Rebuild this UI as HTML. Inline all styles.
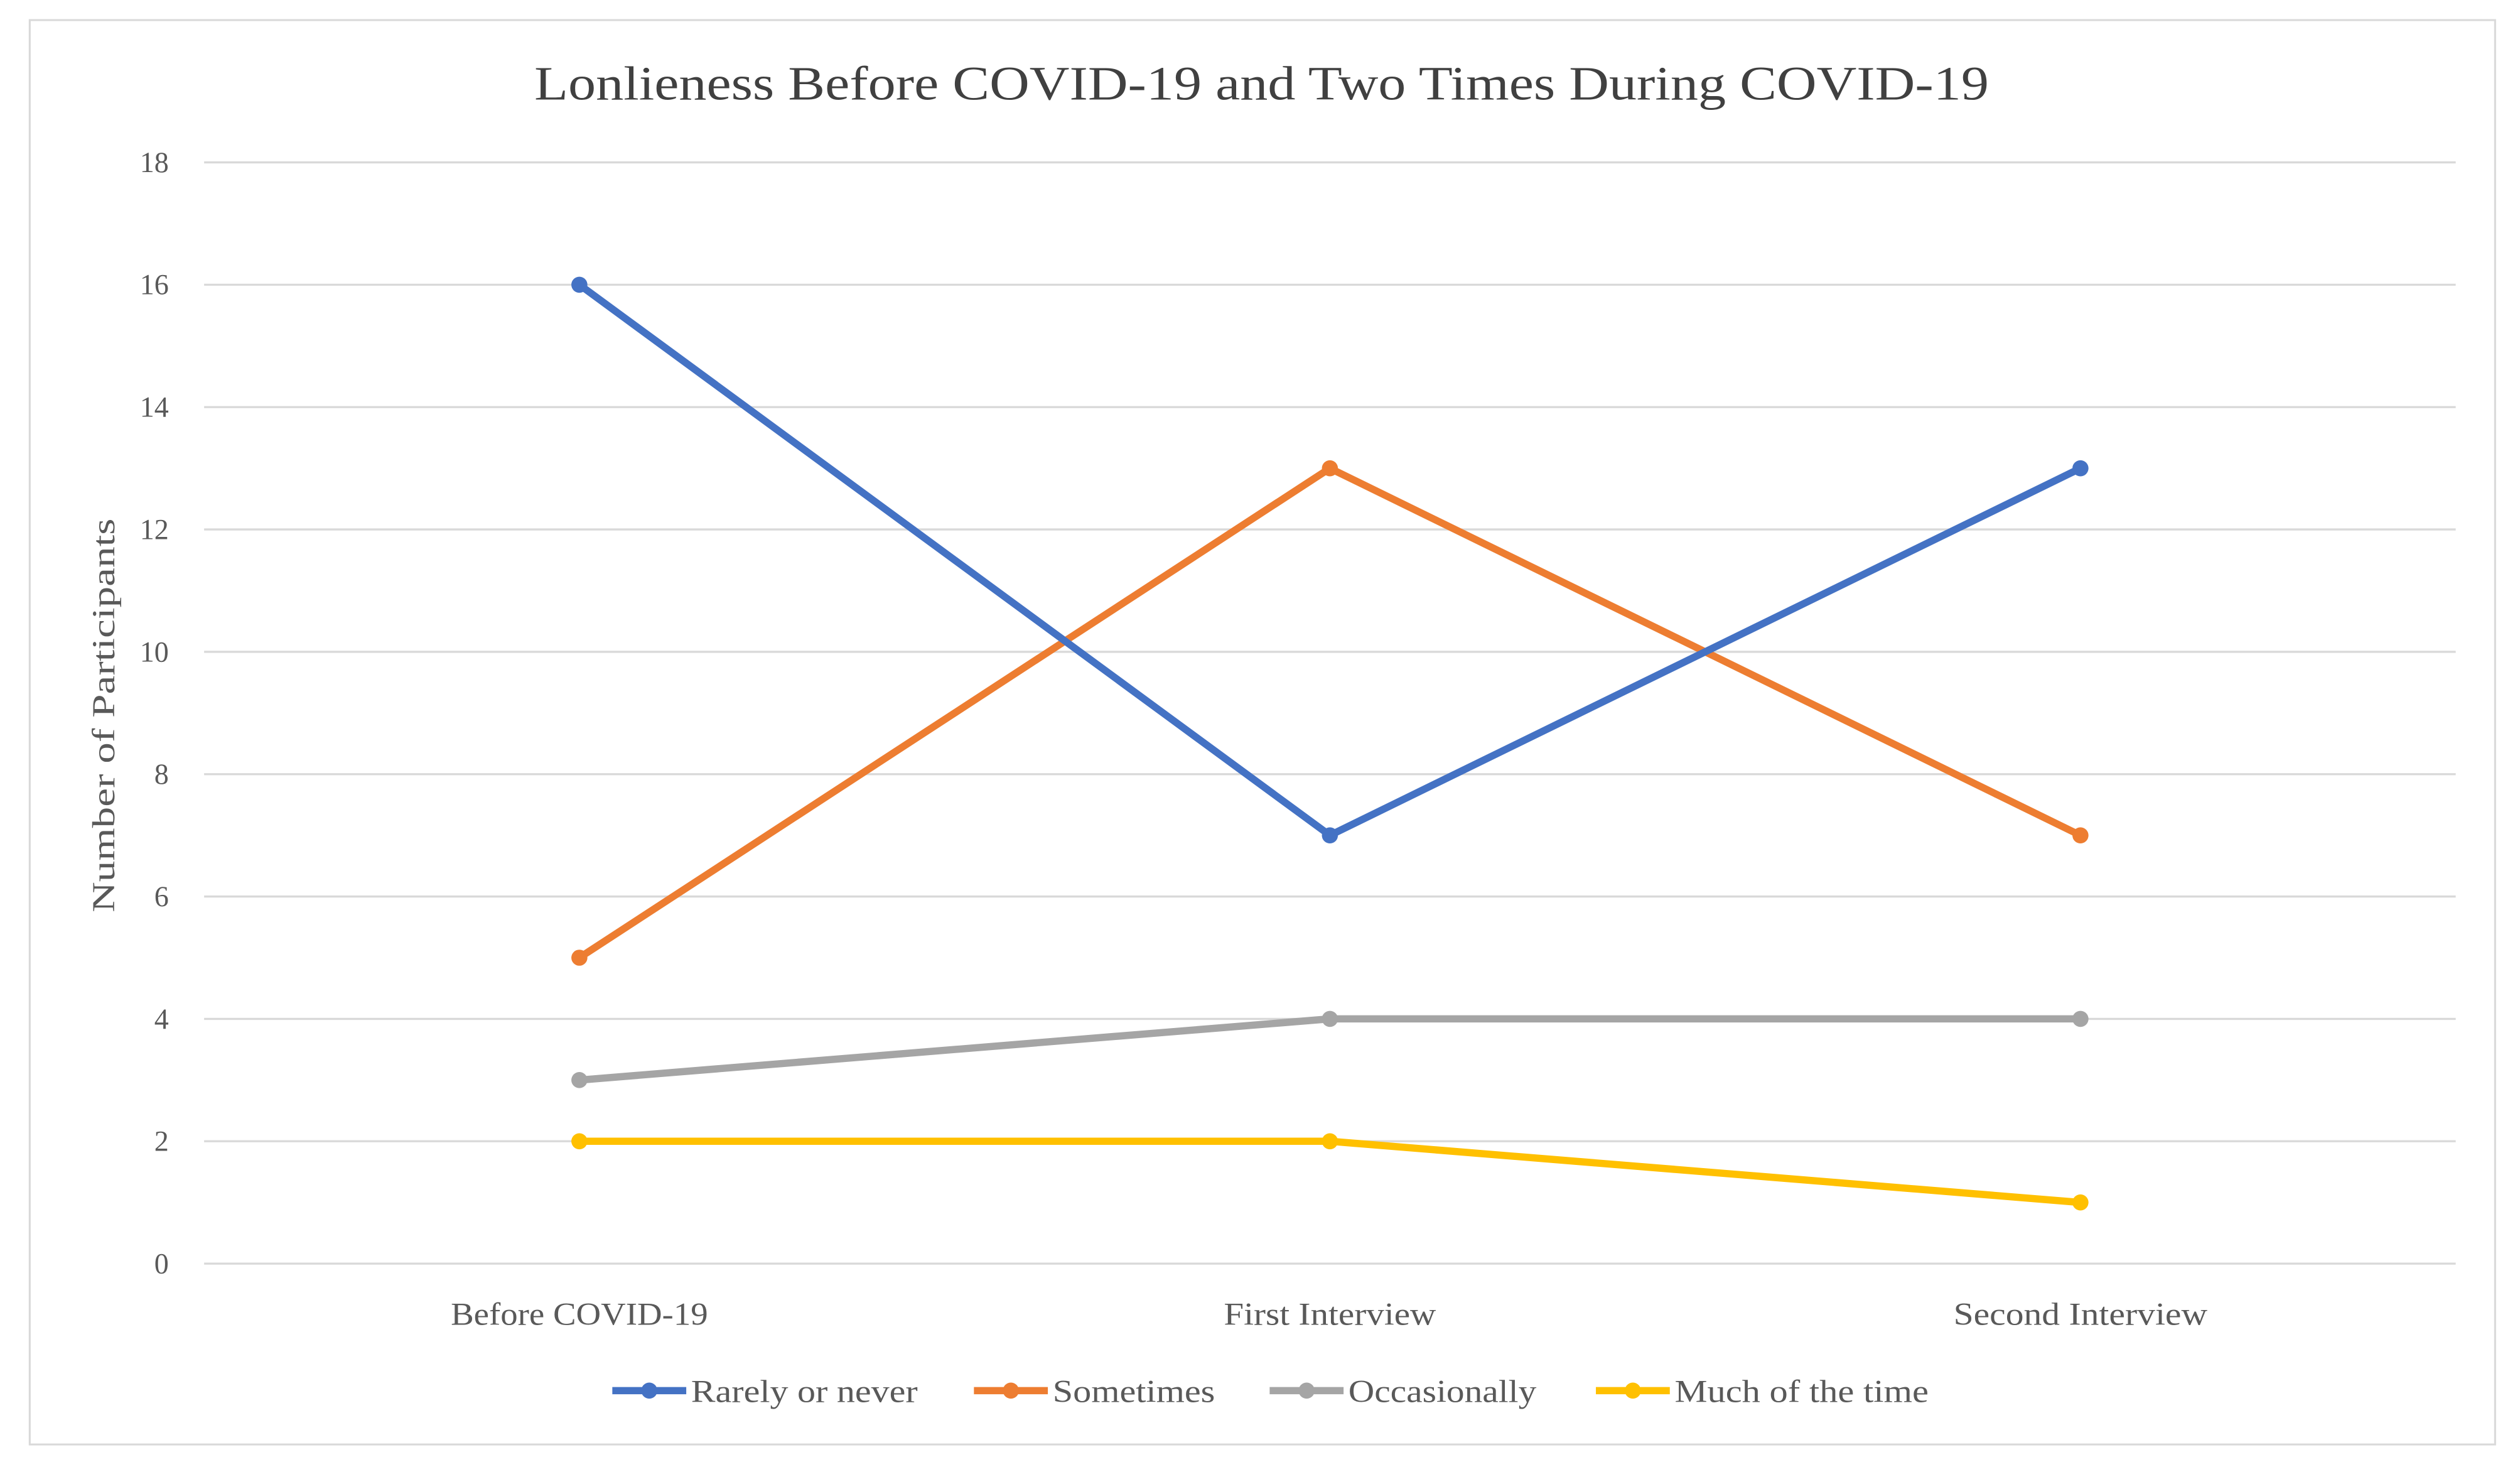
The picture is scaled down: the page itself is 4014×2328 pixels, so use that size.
<!DOCTYPE html>
<html><head><meta charset="utf-8"><style>
html,body{margin:0;padding:0;background:#fff;}
svg{display:block;}
text{font-family:"Liberation Serif",serif;fill:#595959;}
</style></head><body>
<svg id="chart" width="4014" height="2328" viewBox="0 0 1568 909.4" preserveAspectRatio="none" xmlns="http://www.w3.org/2000/svg">
<rect x="18.5" y="12.5" width="1534" height="886" fill="#fff" stroke="#d9d9d9" stroke-width="1.2"/>
<text x="785" y="62" text-anchor="middle" font-size="30" textLength="905" lengthAdjust="spacingAndGlyphs" style="fill:#404040">Lonlieness Before COVID-19 and Two Times During COVID-19</text>
<text transform="translate(71,445) rotate(-90)" text-anchor="middle" font-size="20" textLength="245" lengthAdjust="spacingAndGlyphs">Number of Participants</text>
<g id="grid"></g><g id="series"></g><g id="legend"></g>
</svg>
<script>
const categories = ["Before COVID-19","First Interview","Second Interview"];
const rarely = [16,7,13];
const sometimes = [5,13,7];
const occasionally = [3,4,4];
const muchOfTime = [2,2,1];
const yTicks = [0,2,4,6,8,10,12,14,16,18];
const seriesNames = ["Rarely or never","Sometimes","Occasionally","Much of the time"];

const NS="http://www.w3.org/2000/svg";
const plotL=127,plotR=1528,plotT=101,plotB=786,yMax=18;
const catLabelW=[160,132,158];
const legW=[141,101,117,158];
const yS=v=>plotB-(v/yMax)*(plotB-plotT);
const band=(plotR-plotL)/categories.length;
const xS=i=>plotL+band*(i+0.5);
function mk(tag,attrs,parent){const e=document.createElementNS(NS,tag);for(const k in attrs)e.setAttribute(k,attrs[k]);parent.appendChild(e);return e;}
const grid=document.getElementById('grid');
yTicks.forEach(t=>{
  const l=mk('line',{x1:plotL,x2:plotR,y1:yS(t),y2:yS(t),stroke:'#d9d9d9','stroke-width':1.3},grid);
  
  
  const tx=mk('text',{x:105,y:yS(t)+6,'text-anchor':'end','font-size':18},grid);
  tx.textContent=t;
  
  
});
categories.forEach((c,i)=>{
  const tx=mk('text',{x:xS(i),y:824,'text-anchor':'middle','font-size':20,textLength:catLabelW[i],lengthAdjust:'spacingAndGlyphs'},grid);
  tx.textContent=c;
  
  
});
const colors=["#4472C4","#ED7D31","#A5A5A5","#FFC000"];
const data=[rarely,sometimes,occasionally,muchOfTime];
const sg=document.getElementById('series');
[3,2,1,0].forEach(s=>{
  const vals=data[s];
  const g=mk('g',{},sg);
  
  
  const p=mk('polyline',{points:vals.map((v,i)=>xS(i)+','+yS(v)).join(' '),fill:'none',stroke:colors[s],'stroke-width':4.5,'stroke-linejoin':'round'},g);
  
  
  vals.forEach((v,i)=>{
    const c=mk('circle',{cx:xS(i),cy:yS(v),r:5,fill:colors[s]},g);
    
    
  });
});
const lg=document.getElementById('legend');
const lx=[381,606,790,993];
seriesNames.forEach((n,s)=>{
  const g=mk('g',{},lg);
  
  
  mk('line',{x1:lx[s],x2:lx[s]+46,y1:865,y2:865,stroke:colors[s],'stroke-width':4.5},g);
  mk('circle',{cx:lx[s]+23,cy:865,r:5,fill:colors[s]},g);
  const t=mk('text',{x:lx[s]+49,y:872,'font-size':20,textLength:legW[s],lengthAdjust:'spacingAndGlyphs'},g);
  t.textContent=n;
});
</script>
</body></html>
